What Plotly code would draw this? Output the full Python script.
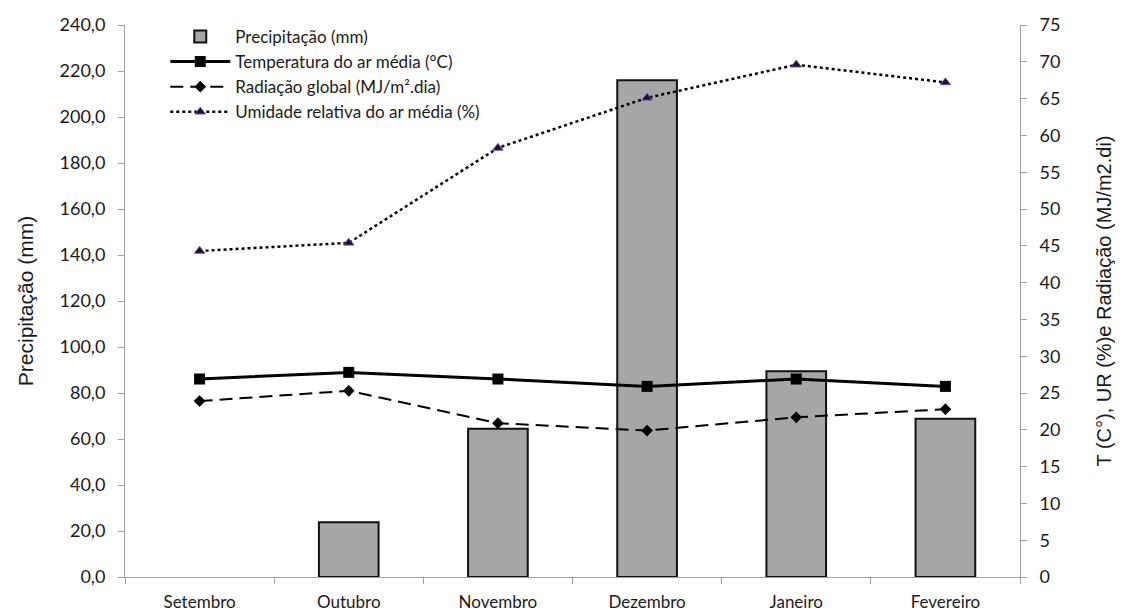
import plotly.graph_objects as go

meses = ["Setembro", "Outubro", "Novembro", "Dezembro", "Janeiro", "Fevereiro"]
precipitacao = [0.0, 23.8, 64.5, 216.0, 89.5, 68.8]
temperatura = [26.9, 27.8, 26.9, 25.9, 26.9, 25.9]
radiacao = [23.9, 25.3, 20.9, 19.9, 21.7, 22.8]
umidade = [44.3, 45.4, 58.3, 65.1, 69.6, 67.2]

left_ticks = list(range(0, 241, 20))
right_ticks = list(range(0, 76, 5))

bar_line_widths = [0 if v == 0 else 2 for v in precipitacao]
bar_style = dict(color="#a6a6a6", line=dict(color="#111111", width=2))

fig = go.Figure()
# legend entry for the bars (keeps the outlined symbol)
fig.add_trace(go.Bar(
    x=[meses[0]], y=[None], name="Precipitação (mm)", marker=bar_style,
    yaxis="y", showlegend=True))
fig.add_trace(go.Bar(
    x=meses, y=precipitacao, name="Precipitação (mm)",
    marker=dict(color="#a6a6a6", line=dict(color="#111111", width=bar_line_widths)),
    width=0.4, yaxis="y", showlegend=False))
fig.add_trace(go.Scatter(
    x=meses, y=temperatura, name="Temperatura do ar média (°C)",
    mode="lines+markers", line=dict(color="black", width=3),
    marker=dict(symbol="square", size=11, color="black"), yaxis="y2"))
fig.add_trace(go.Scatter(
    x=meses, y=radiacao, name="Radiação global (MJ/m².dia)",
    mode="lines+markers", line=dict(color="black", width=2, dash="13px,7px"),
    marker=dict(symbol="diamond", size=9, color="black"), yaxis="y2"))
fig.add_trace(go.Scatter(
    x=meses, y=umidade, name="Umidade relativa do ar média (%)",
    mode="lines+markers", line=dict(color="black", width=2.5, dash="dot"),
    marker=dict(symbol="triangle-up", size=9, color="#1a1030",
                line=dict(color="#6a4a9a", width=1)), yaxis="y2"))

fig.update_layout(
    width=1115, height=604,
    margin=dict(l=117, r=103, t=17, b=35, autoexpand=False),
    paper_bgcolor="white", plot_bgcolor="white",
    separators=",.",
    barmode="overlay",
    font=dict(family="Lato, Liberation Sans, Arial", size=17, color="#1a1a1a"),
    showlegend=True,
    legend=dict(x=0.045, y=1.011, xanchor="left", yanchor="top",
                bgcolor="rgba(0,0,0,0)", font=dict(size=17),
                tracegroupgap=0, itemwidth=60),
    xaxis=dict(type="category", categoryorder="array", categoryarray=meses,
               range=[-0.5, len(meses) - 0.5], automargin=False,
               showline=True, linecolor="#a0a0a0", linewidth=1,
               ticks="outside", tickson="boundaries", ticklen=6,
               tickcolor="#a0a0a0", showgrid=False,
               tickfont=dict(size=17), ticklabelstandoff=10),
    yaxis=dict(range=[0, 240], tickvals=left_ticks, tickformat=".1f",
               automargin=False,
               showline=True, linecolor="#a0a0a0", linewidth=1,
               ticks="outside", ticklen=6, tickcolor="#a0a0a0",
               showgrid=False, zeroline=False, tickfont=dict(size=18),
               ticklabelstandoff=9,
               title=dict(text="Precipitação (mm)",
                          font=dict(family="Liberation Sans, Arial", size=21),
                          standoff=20)),
    yaxis2=dict(range=[0, 75], tickvals=right_ticks, overlaying="y",
                automargin=False,
                side="right", showline=True, linecolor="#a0a0a0", linewidth=1,
                ticks="outside", ticklen=6, tickcolor="#a0a0a0",
                showgrid=False, zeroline=False, tickfont=dict(size=18),
                ticklabelstandoff=9,
                title=dict(text="T (C°), UR (%)e Radiação (MJ/m2.di)",
                           font=dict(family="Liberation Sans, Arial", size=20),
                           standoff=37)),
)

fig.write_html("out.html")
